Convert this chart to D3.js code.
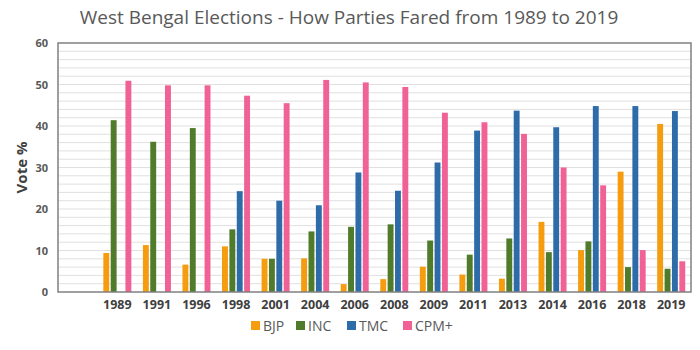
<!DOCTYPE html>
<html>
<head>
<meta charset="utf-8">
<script src="https://cdn.jsdelivr.net/npm/d3@7"></script>
<style>
  body { margin: 0; background: #fff; overflow: hidden; }
  svg { display: block; }
  text { font-family: "Open Sans", "Liberation Sans", sans-serif; }
</style>
</head>
<body>
<div id="chart"></div>
<script>
// jaren (eerste categorie is leeg, zoals in het origineel)
const years = ['', '1989', '1991', '1996', '1998', '2001', '2004', '2006', '2008', '2009', '2011', '2013', '2014', '2016', '2018', '2019']
const parties = ['BJP', 'INC', 'TMC', 'CPM+']
const colors = ['#f59c0f', '#4f7b2b', '#2e6ca9', '#f06195']

// stemmen per partij
const bjp = [0, 9.4, 11.3, 6.6, 11.0, 8.0, 8.1, 1.9, 3.1, 6.1, 4.2, 3.2, 16.9, 10.1, 29.0, 40.5]
const inc = [0, 41.4, 36.2, 39.5, 15.1, 8.0, 14.6, 15.7, 16.3, 12.4, 9.0, 12.9, 9.6, 12.2, 6.0, 5.6]
const tmc = [0, 0, 0, 0, 24.3, 22.0, 20.9, 28.8, 24.4, 31.2, 38.9, 43.7, 39.7, 44.8, 44.8, 43.6]
const cpm = [0, 50.9, 49.8, 49.8, 47.3, 45.5, 51.1, 50.5, 49.4, 43.2, 40.9, 38.1, 30.0, 25.7, 10.1, 7.4]
const series = [bjp, inc, tmc, cpm]

const yTicks = [0, 10, 20, 30, 40, 50, 60]

const width = 700
const height = 350
const margin = { top: 43, right: 9, bottom: 58, left: 58 }
const innerWidth = width - margin.left - margin.right
const innerHeight = height - margin.top - margin.bottom

const svg = d3.select('#chart').append('svg')
    .attr('width', width)
    .attr('height', height)

// titel
svg.append('text')
    .attr('x', 349)
    .attr('y', 24)
    .attr('text-anchor', 'middle')
    .style('font-size', '19px')
    .attr('fill', '#595959')
    .text('West Bengal Elections - How Parties Fared from 1989 to 2019')

const g = svg.append('g')
    .attr('transform', `translate(${margin.left}, ${margin.top})`)

const xScale = d3.scaleBand().domain(years).range([0, innerWidth])
const xInner = d3.scaleBand().domain(parties).range([0, 28]).paddingInner(0.2)
const yScale = d3.scaleLinear().domain([0, 60]).range([innerHeight, 0])

// gridlijnen om de 2
g.append('g')
    .selectAll('line')
    .data(d3.range(2, 60, 2))
    .join('line')
    .attr('x1', 0)
    .attr('x2', innerWidth)
    .attr('y1', d => yScale(d))
    .attr('y2', d => yScale(d))
    .attr('stroke', '#e0e0e0')
    .attr('stroke-width', 1)

// bars
series.forEach((values, i) => {
    g.append('g')
        .selectAll('rect')
        .data(values.map((v, j) => ({ year: years[j], value: v })).filter(d => d.value > 0))
        .join('rect')
        .attr('x', d => xScale(d.year) + xScale.bandwidth() / 2 - 14 + xInner(parties[i]))
        .attr('y', d => yScale(d.value))
        .attr('width', xInner.bandwidth())
        .attr('height', d => innerHeight - yScale(d.value))
        .attr('fill', colors[i])
})

// kader
g.append('rect')
    .attr('width', innerWidth)
    .attr('height', innerHeight)
    .attr('fill', 'none')
    .attr('stroke', '#808080')
    .attr('stroke-width', 1.5)

// y as
const yAxis = g.append('g')
    .call(d3.axisLeft(yScale).tickValues(yTicks).tickSize(0).tickPadding(10))
yAxis.select('.domain').remove()
yAxis.selectAll('text')
    .style('font-size', '11px')
    .style('font-weight', 'bold')
    .attr('fill', '#595959')

// x as
const xAxis = g.append('g')
    .attr('transform', `translate(0, ${innerHeight})`)
    .call(d3.axisBottom(xScale).tickSize(0).tickPadding(8))
xAxis.select('.domain').remove()
xAxis.selectAll('text')
    .style('font-size', '12.5px')
    .style('font-weight', 'bold')
    .attr('fill', '#404040')

// y label
svg.append('text')
    .attr('transform', 'rotate(-90)')
    .attr('x', -(margin.top + innerHeight / 2))
    .attr('y', 27)
    .attr('text-anchor', 'middle')
    .style('font-size', '15px')
    .style('font-weight', 'bold')
    .attr('fill', '#404040')
    .text('Vote %')

// legenda
const legendX = [251, 296, 347, 403]
const legend = svg.append('g')
    .selectAll('g')
    .data(parties)
    .join('g')
    .attr('transform', (d, i) => `translate(${legendX[i]}, 326)`)
legend.append('rect')
    .attr('x', 0)
    .attr('y', -5)
    .attr('width', 9)
    .attr('height', 9)
    .attr('fill', (d, i) => colors[i])
legend.append('text')
    .attr('x', 12)
    .attr('y', 5)
    .style('font-size', '14px')
    .attr('fill', '#595959')
    .text(d => d)
</script>
</body>
</html>
